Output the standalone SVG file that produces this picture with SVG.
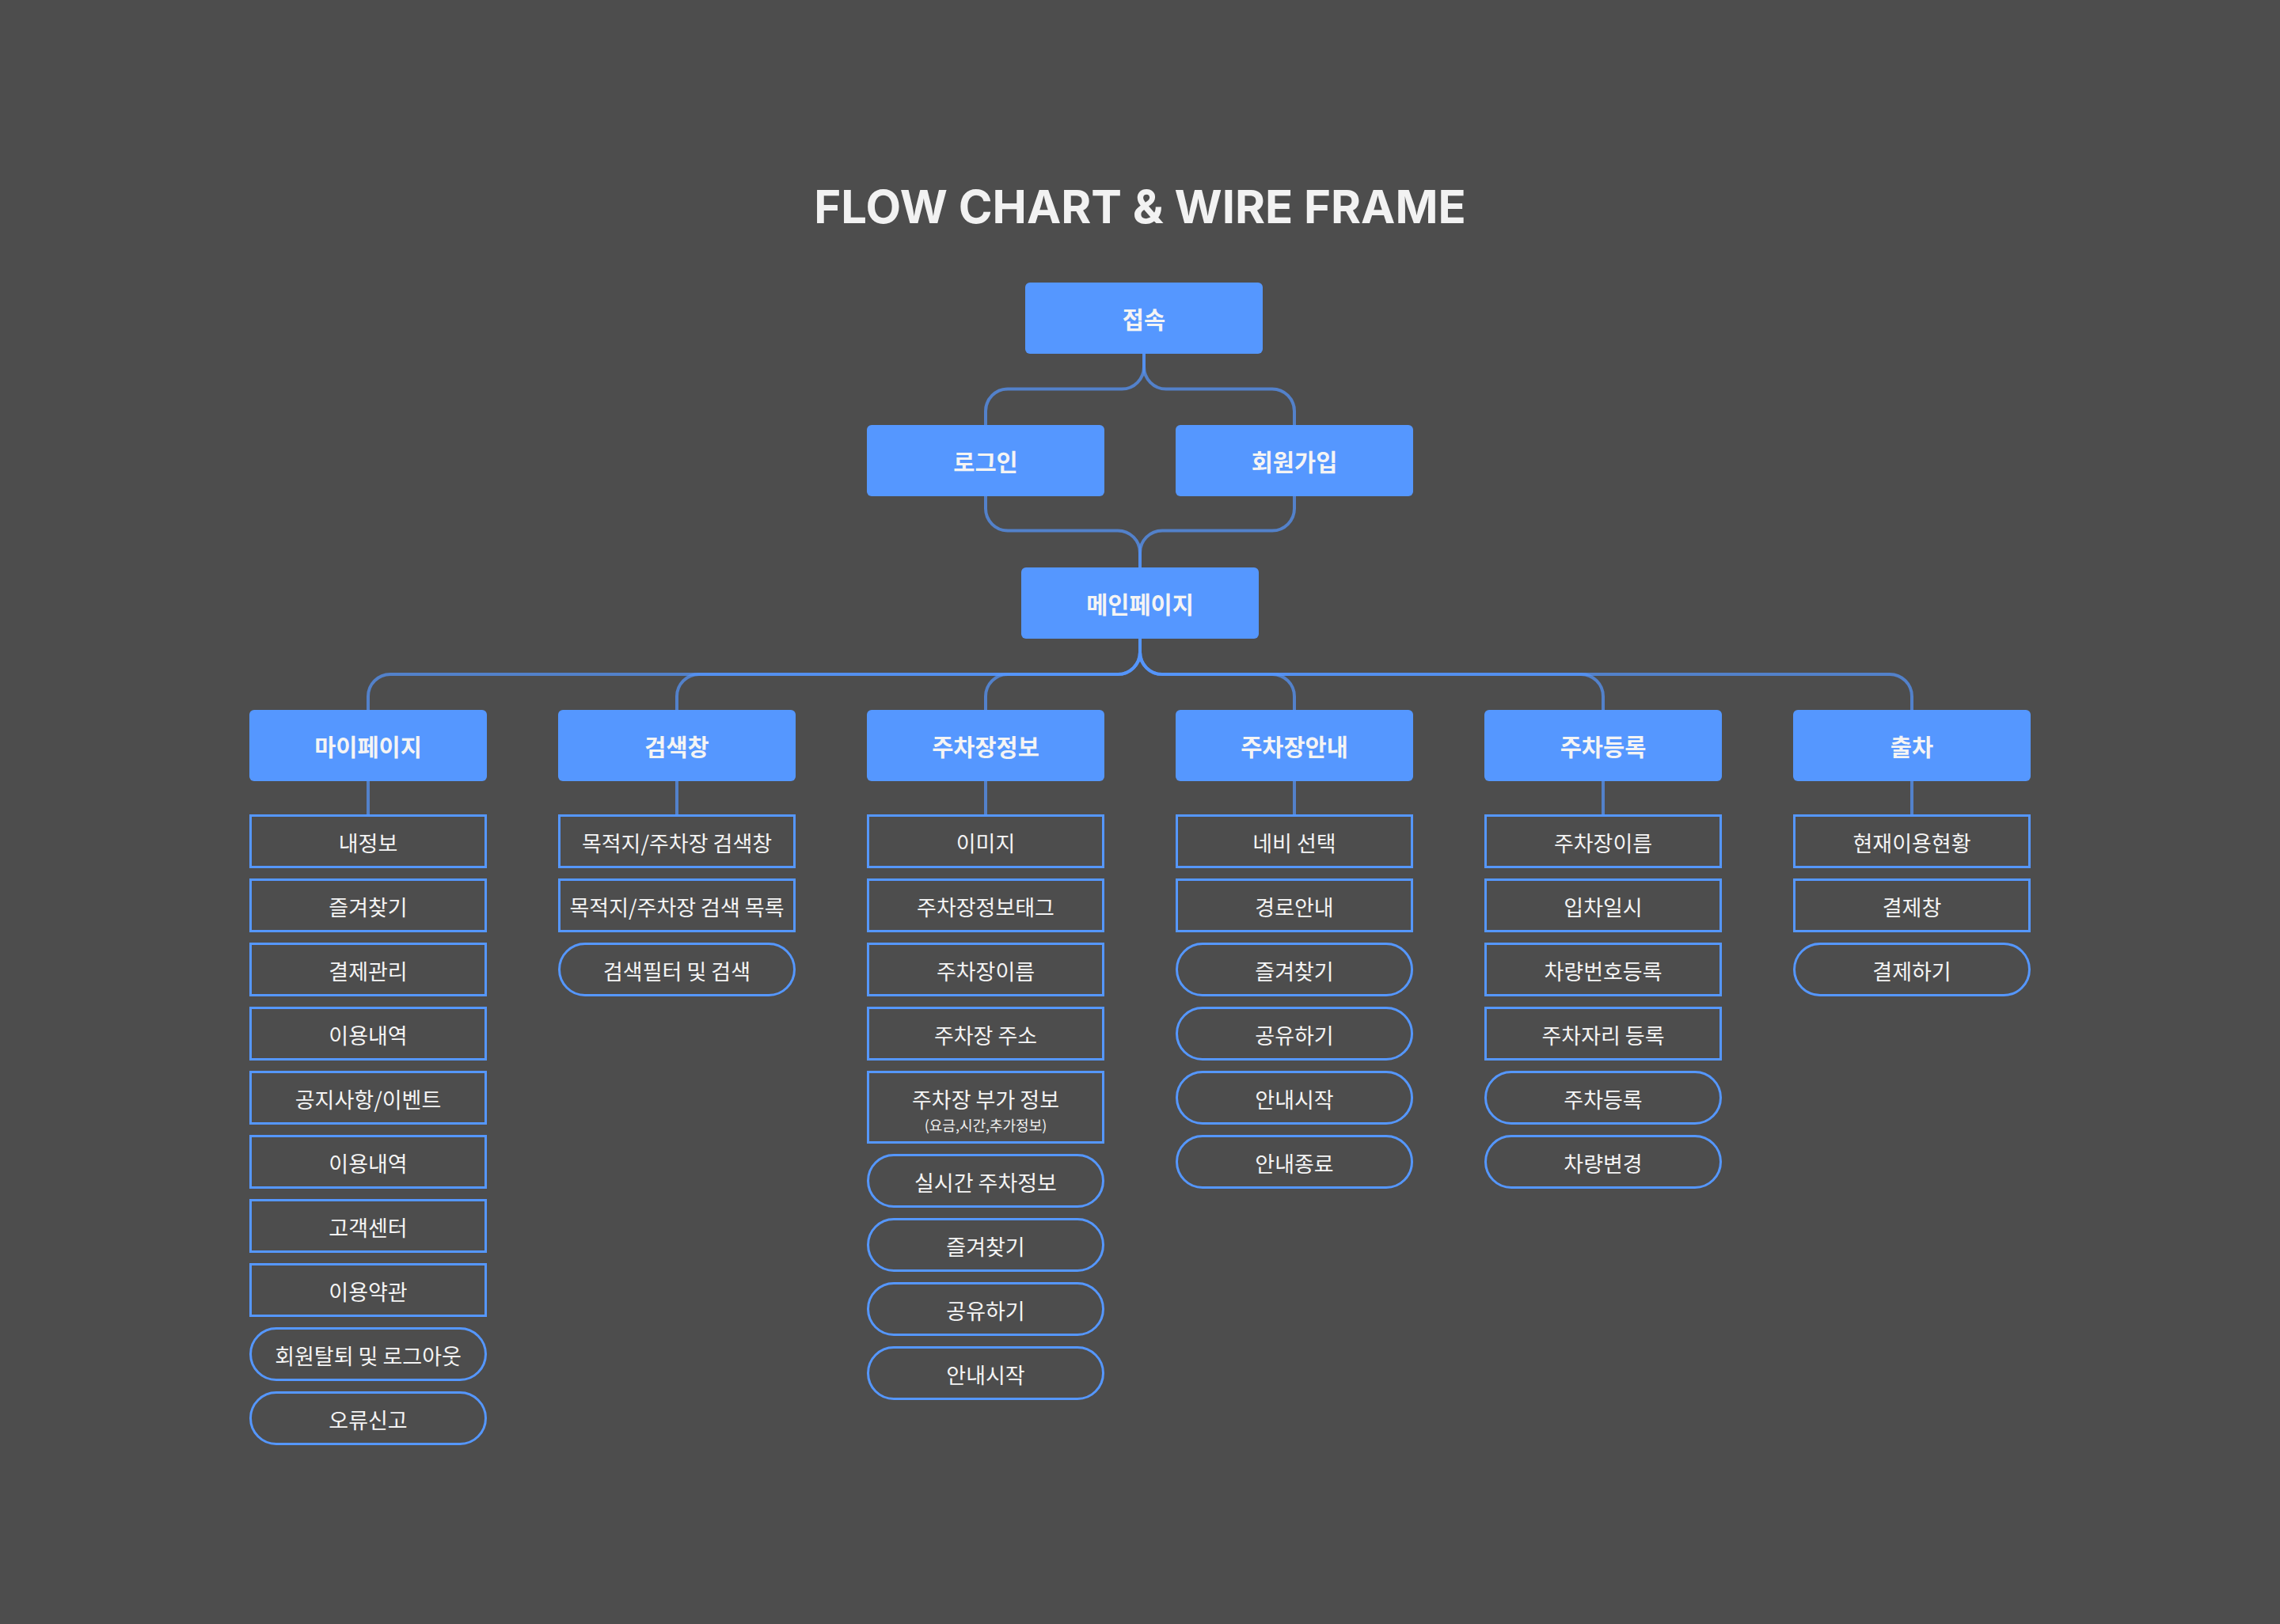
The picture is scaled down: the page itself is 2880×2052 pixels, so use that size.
<svg xmlns="http://www.w3.org/2000/svg" width="2880" height="2052" viewBox="0 0 2880 2052">
<style>
.bg{fill:#4d4d4d}
.title{font-family:Inter,"Noto Sans",sans-serif;font-weight:700;font-size:58px;fill:#f2f2f2;text-anchor:middle}
.blue{fill:#5597ff}
.bt{font-family:"Noto Sans CJK KR","Noto Sans",sans-serif;font-weight:700;font-size:29.5px;fill:#f4f4f4;text-anchor:middle}
.it{fill:none;stroke:#5597ff;stroke-width:3}
.tt{font-family:"Noto Sans CJK KR","Noto Sans",sans-serif;font-weight:400;font-size:27px;fill:#f4f4f4;text-anchor:middle}
.st{font-family:"Noto Sans CJK KR","Noto Sans",sans-serif;font-weight:400;font-size:18px;fill:#f0f0f0;text-anchor:middle}
.cn path{fill:none;stroke:#5597ff;stroke-opacity:0.7;stroke-width:4}
</style>
<rect class="bg" x="0" y="0" width="2880" height="2052"/>
<text class="title" x="1440" y="282">FLOW CHART &amp; WIRE FRAME</text>

<g id="connectors" class="cn">
<path d="M1445,447 V463.5 A28,28 0 0 1 1417,491.5 H1273 A28,28 0 0 0 1245,519.5 V537"/>
<path d="M1445,447 V463.5 A28,28 0 0 0 1473,491.5 H1607 A28,28 0 0 1 1635,519.5 V537"/>
<path d="M1245,627 V642.5 A28,28 0 0 0 1273,670.5 H1412 A28,28 0 0 1 1440,698.5 V717"/>
<path d="M1635,627 V642.5 A28,28 0 0 1 1607,670.5 H1468 A28,28 0 0 0 1440,698.5 V717"/>
<path d="M1440,807 V824 A28,28 0 0 1 1412,852 H493 A28,28 0 0 0 465,880 V897"/>
<path d="M1440,807 V824 A28,28 0 0 1 1412,852 H883 A28,28 0 0 0 855,880 V897"/>
<path d="M1440,807 V824 A28,28 0 0 1 1412,852 H1273 A28,28 0 0 0 1245,880 V897"/>
<path d="M1440,807 V824 A28,28 0 0 0 1468,852 H1607 A28,28 0 0 1 1635,880 V897"/>
<path d="M1440,807 V824 A28,28 0 0 0 1468,852 H1997 A28,28 0 0 1 2025,880 V897"/>
<path d="M1440,807 V824 A28,28 0 0 0 1468,852 H2387 A28,28 0 0 1 2415,880 V897"/>
<path d="M465,987 V1029"/>
<path d="M855,987 V1029"/>
<path d="M1245,987 V1029"/>
<path d="M1635,987 V1029"/>
<path d="M2025,987 V1029"/>
<path d="M2415,987 V1029"/>
</g>

<g id="n-access"><rect class="blue" x="1295" y="357" width="300" height="90" rx="6"/><text class="bt" x="1445" y="415">접속</text></g>
<g id="n-login"><rect class="blue" x="1095" y="537" width="300" height="90" rx="6"/><text class="bt" x="1245" y="595">로그인</text></g>
<g id="n-signup"><rect class="blue" x="1485" y="537" width="300" height="90" rx="6"/><text class="bt" x="1635" y="595">회원가입</text></g>
<g id="n-main"><rect class="blue" x="1290" y="717" width="300" height="90" rx="6"/><text class="bt" x="1440" y="775">메인페이지</text></g>

<g id="c-mypage"><rect class="blue" x="315" y="897" width="300" height="90" rx="6"/><text class="bt" x="465" y="955">마이페이지</text></g>
<g id="c-search"><rect class="blue" x="705" y="897" width="300" height="90" rx="6"/><text class="bt" x="855" y="955">검색창</text></g>
<g id="c-parkinfo"><rect class="blue" x="1095" y="897" width="300" height="90" rx="6"/><text class="bt" x="1245" y="955">주차장정보</text></g>
<g id="c-guide"><rect class="blue" x="1485" y="897" width="300" height="90" rx="6"/><text class="bt" x="1635" y="955">주차장안내</text></g>
<g id="c-register"><rect class="blue" x="1875" y="897" width="300" height="90" rx="6"/><text class="bt" x="2025" y="955">주차등록</text></g>
<g id="c-exit"><rect class="blue" x="2265" y="897" width="300" height="90" rx="6"/><text class="bt" x="2415" y="955">출차</text></g>

<!-- 마이페이지 items -->
<g id="m1"><rect class="it" x="316.5" y="1030.5" width="297" height="65"/><text class="tt" x="465" y="1076">내정보</text></g>
<g id="m2"><rect class="it" x="316.5" y="1111.5" width="297" height="65"/><text class="tt" x="465" y="1157">즐겨찾기</text></g>
<g id="m3"><rect class="it" x="316.5" y="1192.5" width="297" height="65"/><text class="tt" x="465" y="1238">결제관리</text></g>
<g id="m4"><rect class="it" x="316.5" y="1273.5" width="297" height="65"/><text class="tt" x="465" y="1319">이용내역</text></g>
<g id="m5"><rect class="it" x="316.5" y="1354.5" width="297" height="65"/><text class="tt" x="465" y="1400">공지사항/이벤트</text></g>
<g id="m6"><rect class="it" x="316.5" y="1435.5" width="297" height="65"/><text class="tt" x="465" y="1481">이용내역</text></g>
<g id="m7"><rect class="it" x="316.5" y="1516.5" width="297" height="65"/><text class="tt" x="465" y="1562">고객센터</text></g>
<g id="m8"><rect class="it" x="316.5" y="1597.5" width="297" height="65"/><text class="tt" x="465" y="1643">이용약관</text></g>
<g id="m9"><rect class="it" x="316.5" y="1678.5" width="297" height="65" rx="32.5"/><text class="tt" x="465" y="1724">회원탈퇴 및 로그아웃</text></g>
<g id="m10"><rect class="it" x="316.5" y="1759.5" width="297" height="65" rx="32.5"/><text class="tt" x="465" y="1805">오류신고</text></g>

<!-- 검색창 items -->
<g id="s1"><rect class="it" x="706.5" y="1030.5" width="297" height="65"/><text class="tt" x="855" y="1076">목적지/주차장 검색창</text></g>
<g id="s2"><rect class="it" x="706.5" y="1111.5" width="297" height="65"/><text class="tt" x="855" y="1157">목적지/주차장 검색 목록</text></g>
<g id="s3"><rect class="it" x="706.5" y="1192.5" width="297" height="65" rx="32.5"/><text class="tt" x="855" y="1238">검색필터 및 검색</text></g>

<!-- 주차장정보 items -->
<g id="p1"><rect class="it" x="1096.5" y="1030.5" width="297" height="65"/><text class="tt" x="1245" y="1076">이미지</text></g>
<g id="p2"><rect class="it" x="1096.5" y="1111.5" width="297" height="65"/><text class="tt" x="1245" y="1157">주차장정보태그</text></g>
<g id="p3"><rect class="it" x="1096.5" y="1192.5" width="297" height="65"/><text class="tt" x="1245" y="1238">주차장이름</text></g>
<g id="p4"><rect class="it" x="1096.5" y="1273.5" width="297" height="65"/><text class="tt" x="1245" y="1319">주차장 주소</text></g>
<g id="p5"><rect class="it" x="1096.5" y="1354.5" width="297" height="89"/><text class="tt" x="1245" y="1400">주차장 부가 정보</text><text class="st" x="1245" y="1429">(요금,시간,추가정보)</text></g>
<g id="p6"><rect class="it" x="1096.5" y="1459.5" width="297" height="65" rx="32.5"/><text class="tt" x="1245" y="1505">실시간 주차정보</text></g>
<g id="p7"><rect class="it" x="1096.5" y="1540.5" width="297" height="65" rx="32.5"/><text class="tt" x="1245" y="1586">즐겨찾기</text></g>
<g id="p8"><rect class="it" x="1096.5" y="1621.5" width="297" height="65" rx="32.5"/><text class="tt" x="1245" y="1667">공유하기</text></g>
<g id="p9"><rect class="it" x="1096.5" y="1702.5" width="297" height="65" rx="32.5"/><text class="tt" x="1245" y="1748">안내시작</text></g>

<!-- 주차장안내 items -->
<g id="g1"><rect class="it" x="1486.5" y="1030.5" width="297" height="65"/><text class="tt" x="1635" y="1076">네비 선택</text></g>
<g id="g2"><rect class="it" x="1486.5" y="1111.5" width="297" height="65"/><text class="tt" x="1635" y="1157">경로안내</text></g>
<g id="g3"><rect class="it" x="1486.5" y="1192.5" width="297" height="65" rx="32.5"/><text class="tt" x="1635" y="1238">즐겨찾기</text></g>
<g id="g4"><rect class="it" x="1486.5" y="1273.5" width="297" height="65" rx="32.5"/><text class="tt" x="1635" y="1319">공유하기</text></g>
<g id="g5"><rect class="it" x="1486.5" y="1354.5" width="297" height="65" rx="32.5"/><text class="tt" x="1635" y="1400">안내시작</text></g>
<g id="g6"><rect class="it" x="1486.5" y="1435.5" width="297" height="65" rx="32.5"/><text class="tt" x="1635" y="1481">안내종료</text></g>

<!-- 주차등록 items -->
<g id="r1"><rect class="it" x="1876.5" y="1030.5" width="297" height="65"/><text class="tt" x="2025" y="1076">주차장이름</text></g>
<g id="r2"><rect class="it" x="1876.5" y="1111.5" width="297" height="65"/><text class="tt" x="2025" y="1157">입차일시</text></g>
<g id="r3"><rect class="it" x="1876.5" y="1192.5" width="297" height="65"/><text class="tt" x="2025" y="1238">차량번호등록</text></g>
<g id="r4"><rect class="it" x="1876.5" y="1273.5" width="297" height="65"/><text class="tt" x="2025" y="1319">주차자리 등록</text></g>
<g id="r5"><rect class="it" x="1876.5" y="1354.5" width="297" height="65" rx="32.5"/><text class="tt" x="2025" y="1400">주차등록</text></g>
<g id="r6"><rect class="it" x="1876.5" y="1435.5" width="297" height="65" rx="32.5"/><text class="tt" x="2025" y="1481">차량변경</text></g>

<!-- 출차 items -->
<g id="e1"><rect class="it" x="2266.5" y="1030.5" width="297" height="65"/><text class="tt" x="2415" y="1076">현재이용현황</text></g>
<g id="e2"><rect class="it" x="2266.5" y="1111.5" width="297" height="65"/><text class="tt" x="2415" y="1157">결제창</text></g>
<g id="e3"><rect class="it" x="2266.5" y="1192.5" width="297" height="65" rx="32.5"/><text class="tt" x="2415" y="1238">결제하기</text></g>
</svg>
